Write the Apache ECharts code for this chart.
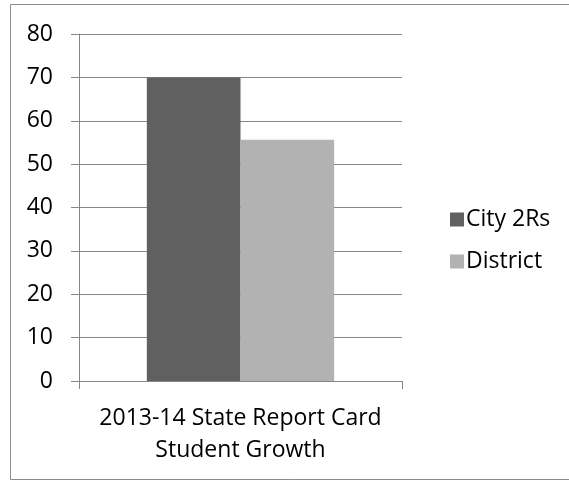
<!DOCTYPE html>
<html><head><meta charset="utf-8">
<script src="https://cdn.jsdelivr.net/npm/echarts@6/dist/echarts.min.js"></script>
<style>html,body{margin:0;padding:0;background:#fff}#c{width:569px;height:481px}</style>
</head><body><div id="c"></div>
<script>
const categories = ["2013-14 State Report Card\nStudent Growth"];
const seriesNames = ["City 2Rs", "District"];
const cityValues = [70];
const districtValues = [55.6];
const yTicks = [0, 10, 20, 30, 40, 50, 60, 70, 80];

const chart = echarts.init(document.getElementById('c'), null, {renderer: 'canvas'});
const font = '"Open Sans", sans-serif';
chart.setOption({
  animation: false,
  backgroundColor: '#ffffff',
  graphic: [{
    type: 'rect', shape: {x: 10.5, y: 4.5, width: 600, height: 475},
    style: {fill: 'none', stroke: '#8c8c8c', lineWidth: 1}, silent: true
  }],
  grid: {left: 79, right: 167, top: 34, bottom: 100, containLabel: false},
  legend: {
    orient: 'vertical', left: 445, top: 203, itemWidth: 14, itemHeight: 14, itemGap: 19,
    icon: 'rect',
    textStyle: {fontFamily: font, fontSize: 23, lineHeight: 23, color: '#000', padding: [0,0,0,-3]},
    data: seriesNames
  },
  xAxis: {
    type: 'category', data: categories,
    axisLine: {lineStyle: {color: '#868686', width: 1}},
    axisTick: {show: true, length: 8, lineStyle: {color: '#868686'}},
    axisLabel: {fontFamily: font, fontSize: 23, color: '#000', lineHeight: 32, margin: 21}
  },
  yAxis: {
    type: 'value', min: yTicks[0], max: yTicks[yTicks.length-1], interval: 10,
    axisLine: {show: true, lineStyle: {color: '#868686', width: 1}},
    axisTick: {show: true, length: 8, lineStyle: {color: '#868686'}},
    splitLine: {lineStyle: {color: '#868686', width: 1}},
    axisLabel: {fontFamily: font, fontSize: 23, color: '#000', margin: 26}
  },
  series: [
    {name: seriesNames[0], type: 'bar', data: cityValues, barGap: '0%', barCategoryGap: '42%',
     itemStyle: {color: '#606060'}},
    {name: seriesNames[1], type: 'bar', data: districtValues, barGap: '0%', barCategoryGap: '42%',
     itemStyle: {color: '#b2b2b2'}}
  ]
});
</script></body></html>
